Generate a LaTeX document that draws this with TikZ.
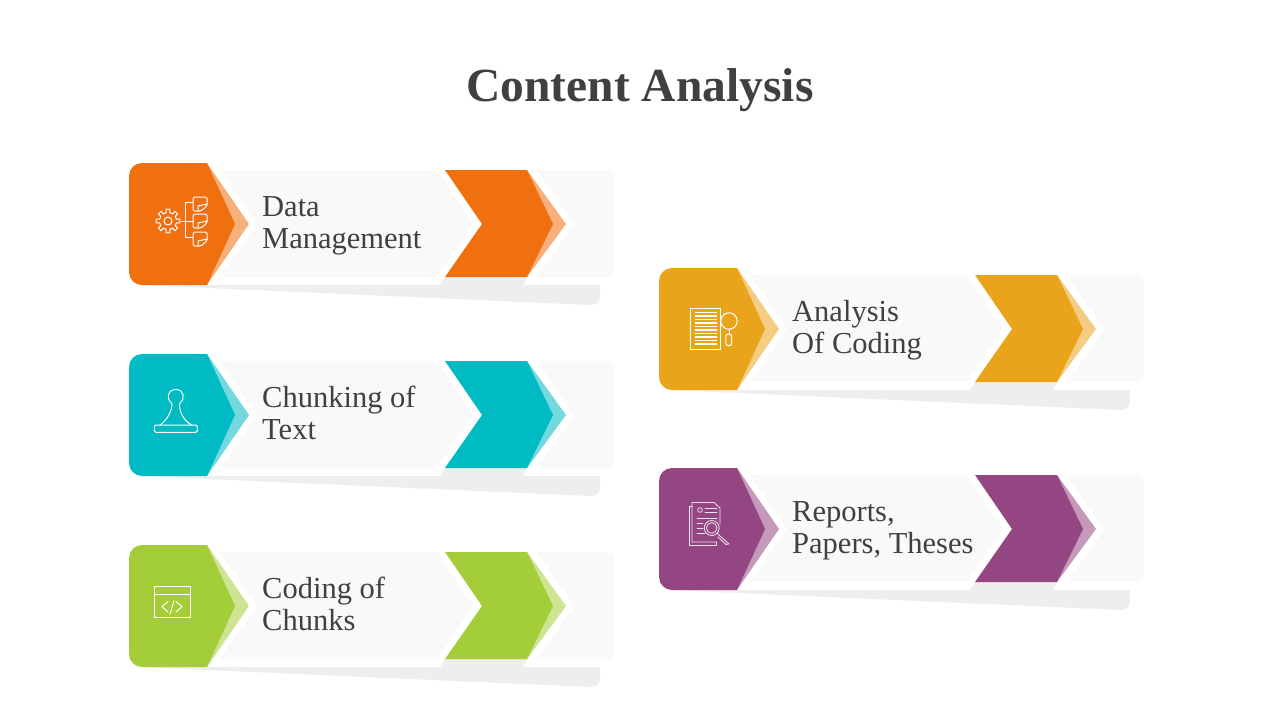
\documentclass[tikz,border=0pt]{standalone}
\usepackage{fontspec}
\setmainfont{Liberation Serif}
\definecolor{rowinkcolor}{HTML}{404040}
\definecolor{panelgrey}{HTML}{F9F9F9}
\definecolor{shadowgrey}{HTML}{EEEEEE}
\definecolor{rowOrange}{HTML}{F07010}
\definecolor{rowTeal}{HTML}{00BAC4}
\definecolor{rowGreen}{HTML}{A4CE39}
\definecolor{rowAmber}{HTML}{EAA41C}
\definecolor{rowPurple}{HTML}{934682}
\tikzset{
  iconline/.style={draw=white, line width=1pt, line join=round, line cap=round},
  thinicon/.style={iconline, line width=0.8pt, draw opacity=0.85},
  rowtext/.style={anchor=west, align=left, inner sep=0pt, text=rowinkcolor, font=\fontsize{30.5}{32}\selectfont, execute at begin node=\strut, execute at end node=\strut},
}
% one row: name, colour, shift x, shift y, label
\newcommand{\contentrow}[5]{
  \begin{scope}[shift={(#3,#4)}]
    % shadow and panel
    \fill[shadowgrey] (140,285) -- (600,285) -- (600,297) .. controls (600,302) and (596,305) .. (590,305) -- cycle;
    \fill[panelgrey] (220,170) [rounded corners=6pt] -- (614,170) -- (614,277) [sharp corners] -- (220,277) -- (257,224) -- cycle;
    % white gap round the chevron
    \fill[white] (437,170) -- (473,224) -- (437,277) -- (440,285) -- (523,285) -- (537,277) -- (574,224) -- (537,170) -- cycle;
    \fill[shadowgrey] (445,277) -- (527,277) -- (523,285) -- (440,285) -- cycle;
    % chevron
    \fill[#2!55] (527,170) -- (566,224) -- (527,277) -- cycle;
    \fill[#2] (445,170) -- (527,170) -- (553,224) -- (527,277) -- (445,277) -- (482,224) -- cycle;
    % badge
    \fill[#2!55] (207,163) -- (249,224) -- (207,285) -- cycle;
    \fill[#2] (207,163) [rounded corners=13pt] -- (129,163) -- (129,285) [sharp corners] -- (207,285) -- (235,224) -- cycle;
    \node[rowtext] (#1) at (262,227) {#5};
  \end{scope}
}
\begin{document}
\begin{tikzpicture}[x=1pt,y=-1pt]
  \useasboundingbox (0,0) rectangle (1280,720);

  % Title
  \node[text=rowinkcolor, font=\fontsize{47.5}{50}\selectfont\bfseries] (title) at (640,90) {Content Analysis};

  % Rows
  \contentrow{data}{rowOrange}{0}{0}{Data\\\strut Management}
  \contentrow{chunking}{rowTeal}{0}{191}{Chunking of\\\strut Text}
  \contentrow{coding}{rowGreen}{0}{382}{Coding of\\\strut Chunks}
  \contentrow{analysis}{rowAmber}{530}{105}{Analysis\\\strut Of Coding}
  \contentrow{reports}{rowPurple}{530}{305}{Reports,\\\strut Papers, Theses}

  % Gear and notes icon
  \foreach \a in {0,45,...,315}
    \draw[iconline, shift={(168,221)}] ({\a-25}:8.5) -- ({\a-12}:8.5) -- ({\a-9}:12) -- ({\a+9}:12) -- ({\a+12}:8.5) -- ({\a+20}:8.5);
  \draw[iconline] (168,221) circle (4);
  \draw[iconline] (193,202) -- (185,202) -- (185,237) -- (193,237);
  \draw[iconline] (181,221) -- (193,221);
  \foreach \ny in {197,214,232} {
    \draw[iconline, rounded corners=1.5pt] (193,\ny) -- (207,\ny) -- (207,\ny+9) -- (201,\ny+14) -- (193,\ny+14) -- cycle;
    \draw[iconline] (198,\ny+14) -- (198,\ny+9) -- (207,\ny+7);
  }

  % Stamp icon
  \draw[iconline] (160,425) .. controls (166,421) and (172,412) .. (172,403.5) .. controls (166,399) and (167,389.5) .. (175.7,389.5) .. controls (184.5,389.5) and (185.5,399) .. (179.5,403.5) .. controls (179,412) and (184,421) .. (191.7,425);
  \draw[iconline, rounded corners=1.5pt] (154.3,425) rectangle (197.3,432.3);

  % Code window icon
  \draw[iconline, line cap=butt] (154,586) rectangle (190,617.7);
  \draw[iconline] (154,594) -- (190,594);
  \draw[iconline] (168,601.5) -- (162,606.7) -- (168,612);
  \draw[iconline] (176,601.5) -- (182,606.7) -- (176,612);
  \draw[iconline] (174,600.7) -- (170,614.3);

  % Document and lens icon
  \draw[iconline] (690.7,308.3) rectangle (720.7,349.3);
  \foreach \ly in {312.5,316,...,346}
    \draw[white, line width=1.3pt] (695,\ly) -- (717,\ly);
  \draw[iconline] (729,321) circle (8.2);
  \draw[iconline] (729,329.2) -- (729,334);
  \draw[iconline, rounded corners=2.5pt] (725.8,334) rectangle (731.7,345.7);

  % Report and lens icon
  \draw[thinicon] (692,506) -- (689.5,506) -- (689.5,545.5) -- (716.5,545.5) -- (716.5,542);
  \draw[thinicon] (720,524) -- (720,508) -- (714,502.5) -- (692,502.5) -- (692,542) -- (716,542);
  \draw[thinicon] (700,510) circle (2.3);
  \draw[thinicon] (705,508) -- (717,508);
  \draw[thinicon] (705,512.5) -- (717,512.5);
  \draw[thinicon] (697,518) -- (717,518);
  \draw[thinicon] (697,523) -- (703,523);
  \draw[thinicon] (697,528) -- (703,528);
  \draw[thinicon] (697,533) -- (705,533);
  \draw[thinicon] (711.7,528) circle (7.5);
  \draw[thinicon] (711.7,528) circle (5.3);
  \draw[thinicon] (717.5,533.5) -- (720,536) -- (729,544) -- (726,544.5) -- (718,537);
\end{tikzpicture}
\end{document}
